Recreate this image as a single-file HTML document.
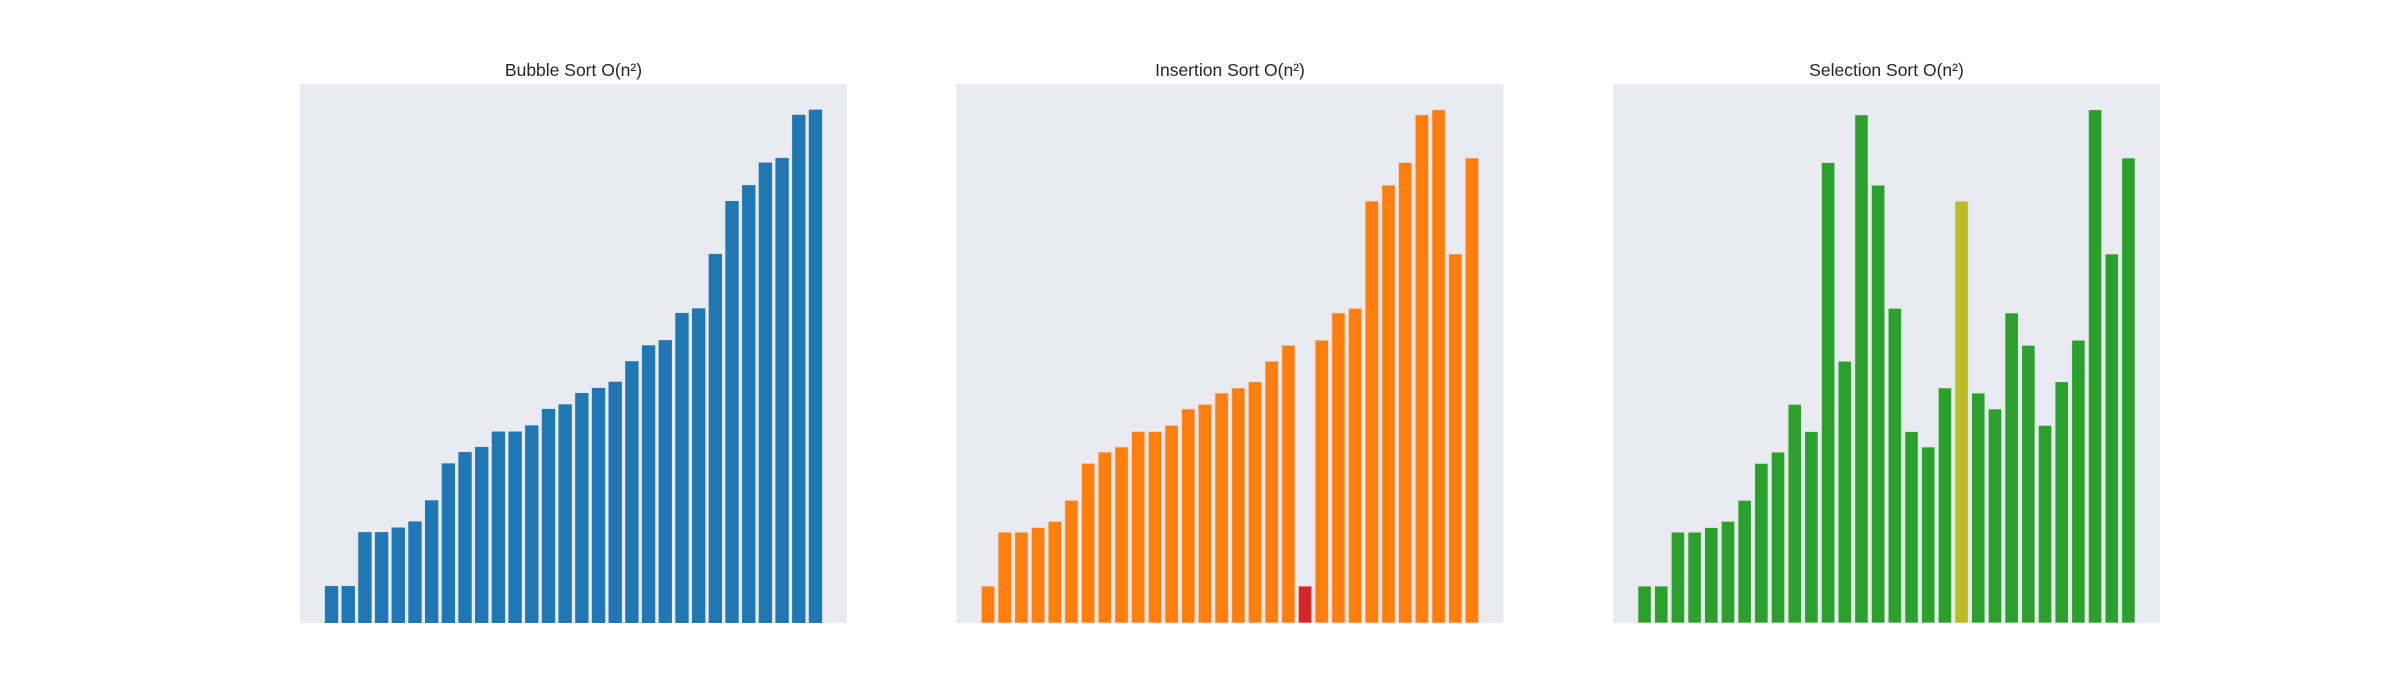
<!DOCTYPE html>
<html><head><meta charset="utf-8"><style>
html,body{margin:0;padding:0;background:#fff;}
svg{display:block;}
</style></head><body>
<svg id="fig" width="2400" height="700" xmlns="http://www.w3.org/2000/svg"></svg>
<script>
const bubbleValues = [7.2,7.2,17.7,17.7,18.6,19.8,23.9,31.1,33.3,34.3,37.3,37.3,38.5,41.7,42.6,44.8,45.8,47.0,51.0,54.1,55.1,60.4,61.3,71.9,82.2,85.3,89.7,90.6,99.0,100];
const insertionValues = [7.2,17.7,17.7,18.6,19.8,23.9,31.1,33.3,34.3,37.3,37.3,38.5,41.7,42.6,44.8,45.8,47.0,51.0,54.1,7.2,55.1,60.4,61.3,82.2,85.3,89.7,99.0,100,71.9,90.6];
const selectionValues = [7.2,7.2,17.7,17.7,18.6,19.8,23.9,31.1,33.3,42.6,37.3,89.7,51.0,99.0,85.3,61.3,37.3,34.3,45.8,82.2,44.8,41.7,60.4,54.1,38.5,47.0,55.1,100,71.9,90.6];
const titles = ["Bubble Sort O(n²)","Insertion Sort O(n²)","Selection Sort O(n²)"];
const highlightIndex = [-1, 19, 19];
const baseColors = ["#1f77b4","#ff7f0e","#2ca02c"];
const highlightColors = ["#1f77b4","#d62728","#bcbd22"];
const edgeColors = ["none","#f0d8d0","#d8eedd"];

const NS = "http://www.w3.org/2000/svg";
const svg = document.getElementById('fig');
const axLefts = [300, 956.5, 1613];
const axW = 547, axTop = 84, axBottom = 623;
const allSeries = [bubbleValues, insertionValues, selectionValues];
const names = ["bubble","insertion","selection"];

allSeries.forEach((vals, p) => {
  const n = vals.length;
  const x0 = -0.4 - 0.05*(n-0.2), x1 = (n-1)+0.4 + 0.05*(n-0.2);
  const ymax = Math.max(...vals)*1.05;
  const L = axLefts[p];
  const xs = v => L + (v - x0)/(x1 - x0)*axW;
  const ys = v => axBottom - v/ymax*(axBottom-axTop);

  const g = document.createElementNS(NS,'g');
  
  
  svg.appendChild(g);

  const bg = document.createElementNS(NS,'rect');
  bg.setAttribute('x', L); bg.setAttribute('y', axTop);
  bg.setAttribute('width', axW); bg.setAttribute('height', axBottom-axTop);
  bg.setAttribute('fill', '#eaeaf2');
  
  
  g.appendChild(bg);

  const t = document.createElementNS(NS,'text');
  t.setAttribute('x', L + axW/2); t.setAttribute('y', 76);
  t.setAttribute('text-anchor','middle');
  t.setAttribute('font-family','"Liberation Sans", "DejaVu Sans", sans-serif');
  t.setAttribute('font-size','17.5');
  t.setAttribute('fill','#262626');
  t.textContent = titles[p];
  
  
  g.appendChild(t);

  vals.forEach((v, i) => {
    const r = document.createElementNS(NS,'rect');
    const xa = xs(i-0.4), xb = xs(i+0.4);
    r.setAttribute('x', xa); r.setAttribute('width', xb-xa);
    r.setAttribute('y', ys(v)); r.setAttribute('height', axBottom - ys(v));
    r.setAttribute('fill', i === highlightIndex[p] ? highlightColors[p] : baseColors[p]);
    if (edgeColors[p] !== 'none') { r.setAttribute('stroke', edgeColors[p]); r.setAttribute('stroke-width','0.8'); }
    
    
    g.appendChild(r);
  });
});
</script>
</body></html>
